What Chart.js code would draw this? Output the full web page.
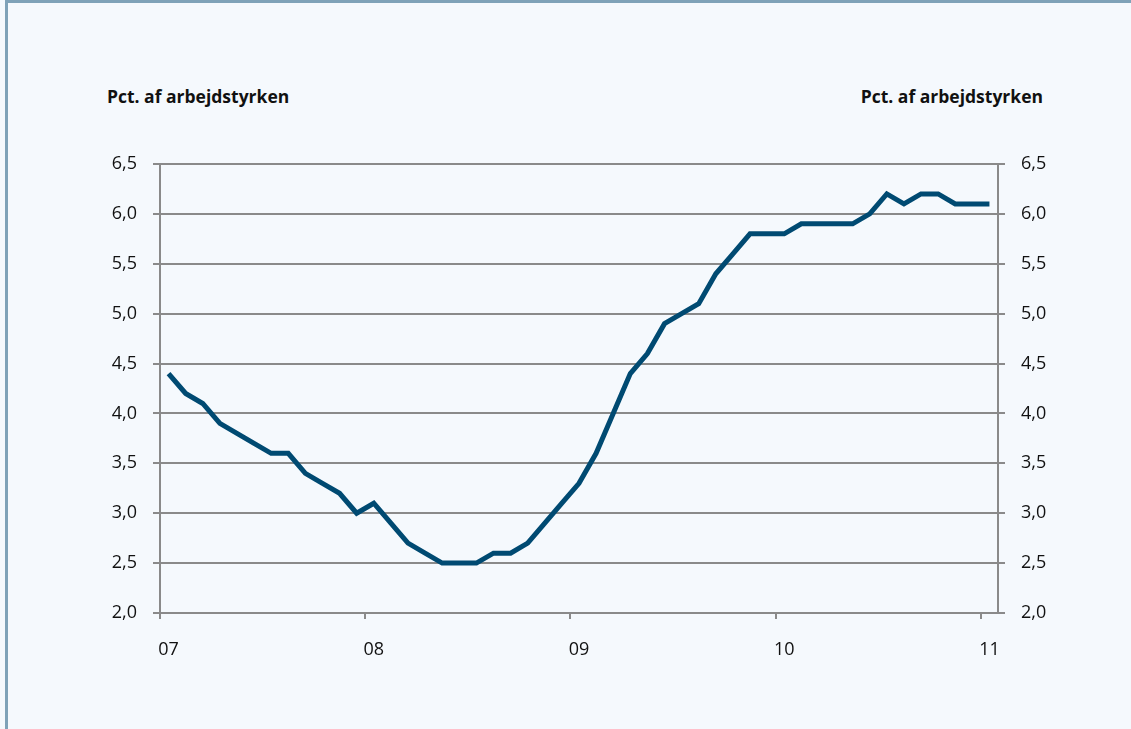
<!DOCTYPE html>
<html>
<head>
<meta charset="utf-8">
<script src="https://cdn.jsdelivr.net/npm/chart.js@4/dist/chart.umd.min.js"></script>
<style>
  html, body { margin: 0; padding: 0; }
  body { width: 1131px; height: 729px; background: #f5f9fd; position: relative; overflow: hidden; }
  #frameTop { position: absolute; left: 5px; top: 0; width: 1126px; height: 3px; background: #7fa2b8; }
  #frameLeft { position: absolute; left: 5px; top: 0; width: 3px; height: 729px; background: #7fa2b8; }
  .ttl { position: absolute; top: 84px; font-family: "Open Sans", Lato, sans-serif; font-weight: bold; font-size: 17.5px; color: #111; white-space: nowrap; }
  #ttlL { left: 107px; }
  #ttlR { right: 88px; }
  #wrap { position: absolute; left: 0; top: 0; width: 1131px; height: 729px; }
</style>
</head>
<body>
<div id="frameTop"></div>
<div id="frameLeft"></div>
<div class="ttl" id="ttlL">Pct. af arbejdstyrken</div>
<div class="ttl" id="ttlR">Pct. af arbejdstyrken</div>
<div id="wrap"><canvas id="c" width="1131" height="729"></canvas></div>
<script>
// Tick labels for the x axis (January of each year)
const yearLabels = ['07', '08', '09', '10', '11'];
const monthsPerYear = 12;
// Categories: monthly, Jan 2007 .. Jan 2011
const categories = [];
for (let y = 0; y < yearLabels.length; y++) {
  for (let m = 1; m <= monthsPerYear; m++) {
    if (y === yearLabels.length - 1 && m > 1) break;
    categories.push('20' + yearLabels[y] + '-' + String(m).padStart(2, '0'));
  }
}
// Unemployment, pct. of labour force
const unemployment = [
  4.4, 4.2, 4.1, 3.9, 3.8, 3.7, 3.6, 3.6, 3.4, 3.3, 3.2, 3.0,
  3.1, 2.9, 2.7, 2.6, 2.5, 2.5, 2.5, 2.6, 2.6, 2.7, 2.9, 3.1,
  3.3, 3.6, 4.0, 4.4, 4.6, 4.9, 5.0, 5.1, 5.4, 5.6, 5.8, 5.8,
  5.8, 5.9, 5.9, 5.9, 5.9, 6.0, 6.2, 6.1, 6.2, 6.2, 6.1, 6.1,
  6.1
];
const yMin = 2.0, yMax = 6.5, yStep = 0.5;

const axisColor = '#8a8a8a';
const fontTicks = { family: '"Open Sans", Lato, sans-serif', size: 18 };
const fmt = v => v.toFixed(1).replace('.', ',');

new Chart(document.getElementById('c'), {
  type: 'line',
  data: {
    labels: categories,
    datasets: [{
      data: unemployment,
      borderColor: '#004a72',
      borderWidth: 5,
      pointRadius: 0,
      tension: 0,
      fill: false,
      yAxisID: 'y'
    }]
  },
  options: {
    responsive: false,
    animation: false,
    events: [],
    layout: { padding: { top: 164, right: 73, bottom: 40, left: 0 } },
    plugins: { legend: { display: false }, tooltip: { enabled: false } },
    scales: {
      x: {
        type: 'category',
        offset: true,
        grid: {
          offset: true,
          drawOnChartArea: false,
          drawTicks: true,
          tickLength: 6,
          lineWidth: 2,
          color: ctx => (ctx.index !== undefined && ctx.index % monthsPerYear === 0) ? axisColor : 'rgba(0,0,0,0)'
        },
        border: { display: true, color: axisColor, width: 2 },
        ticks: {
          autoSkip: false,
          maxRotation: 0,
          padding: 20,
          color: '#111',
          font: fontTicks,
          callback: (v, i) => (i % monthsPerYear === 0) ? yearLabels[i / monthsPerYear] : ''
        },
        afterFit: s => { s.height = 76; }
      },
      y: {
        position: 'left',
        min: yMin, max: yMax,
        ticks: { stepSize: yStep, padding: 16, color: '#111', font: fontTicks, callback: v => fmt(v) },
        grid: { color: axisColor, lineWidth: 2, tickLength: 7 },
        border: { display: true, color: axisColor, width: 2 },
        afterFit: s => { s.width = 160; }
      },
      y2: {
        position: 'right',
        min: yMin, max: yMax,
        ticks: { stepSize: yStep, padding: 16, color: '#111', font: fontTicks, callback: v => fmt(v) },
        grid: { color: axisColor, lineWidth: 2, tickLength: 7, drawOnChartArea: false },
        border: { display: true, color: axisColor, width: 2 },
        afterFit: s => { s.width = 60; }
      }
    }
  }
});
</script>
</body>
</html>
